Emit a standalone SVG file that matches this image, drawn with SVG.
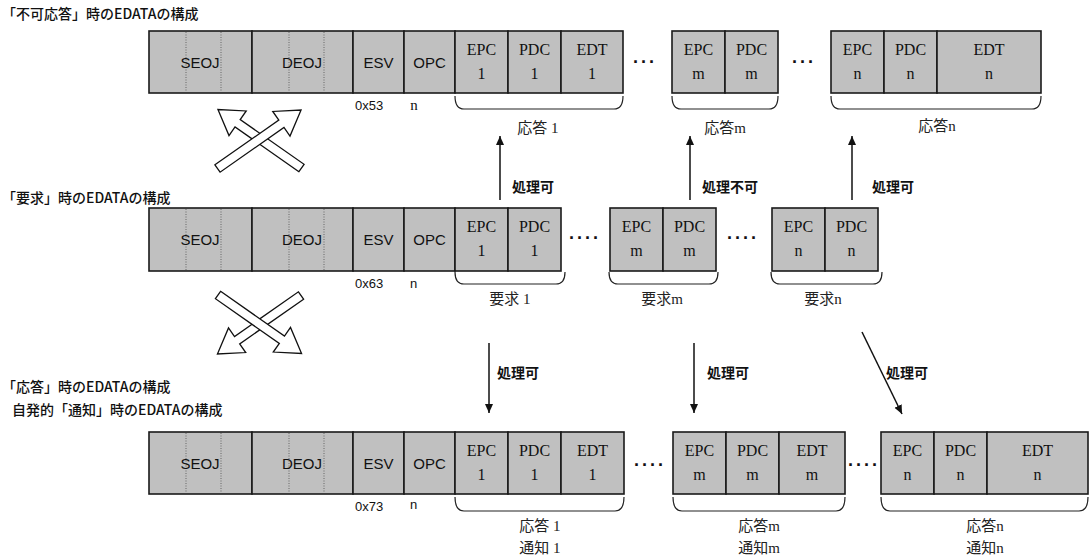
<svg xmlns="http://www.w3.org/2000/svg" width="1091" height="560" viewBox="0 0 1091 560">
<defs>
<style>
.cell{fill:#c0c0c0;stroke:#1a1a1a;stroke-width:1.6}
.dot{stroke:#666;stroke-width:1;stroke-dasharray:1 1.5}
.sans{font-family:"Liberation Sans",Arial,sans-serif;font-size:15px;fill:#111}
.sm{font-family:"Liberation Sans",Arial,sans-serif;font-size:13px;fill:#111}
.ser{font-family:"Liberation Serif","Noto Sans CJK JP",serif;font-size:16px;fill:#111;text-anchor:middle}
.cap{font-family:"Liberation Serif","Noto Sans CJK JP",serif;font-size:15px;fill:#222;text-anchor:middle}
.ttl{font-family:"Noto Sans CJK JP",sans-serif;font-size:14px;font-weight:500;fill:#111}
.lbl{font-family:"Noto Sans CJK JP",sans-serif;font-size:14px;font-weight:bold;fill:#111}
.mid{text-anchor:middle}
.dots{font-family:"Liberation Sans",Arial,sans-serif;font-size:18px;font-weight:bold;fill:#111}
.brace{fill:none;stroke:#222;stroke-width:1.2}
.conn{stroke:#111;stroke-width:1.5;fill:none}
.blk{fill:#fff;stroke:#111;stroke-width:1.3}
</style>
<marker id="ah" markerWidth="10" markerHeight="10" refX="9" refY="5" orient="auto" markerUnits="userSpaceOnUse"><path d="M0,1 L9,5 L0,9 z" fill="#111"/></marker>
<polygon id="blkarrow" points="0,-4.5 78,-4.5 78,-15 102,0 78,15 78,4.5 0,4.5"/>
</defs>

<!-- titles -->
<g id="titles">
<text class="ttl" x="2" y="19">「不可応答」時のEDATAの構成</text>
<text class="ttl" x="2" y="203">「要求」時のEDATAの構成</text>
<text class="ttl" x="2" y="392">「応答」時のEDATAの構成</text>
<text class="ttl" x="12" y="415">自発的「通知」時のEDATAの構成</text>
</g>

<!-- top row header -->
<g id="hdr-top">
<rect class="cell" x="149" y="31" width="103" height="62"/>
<rect class="cell" x="252" y="31" width="101" height="62"/>
<rect class="cell" x="353" y="31" width="51" height="62"/>
<rect class="cell" x="404" y="31" width="51" height="62"/>
<line class="dot" x1="186" y1="32" x2="186" y2="92"/><line class="dot" x1="221" y1="32" x2="221" y2="92"/>
<line class="dot" x1="289" y1="32" x2="289" y2="92"/><line class="dot" x1="324" y1="32" x2="324" y2="92"/>
<text class="sans mid" x="200" y="68">SEOJ</text>
<text class="sans mid" x="302" y="68">DEOJ</text>
<text class="sans mid" x="378.5" y="68">ESV</text>
<text class="sans mid" x="429.5" y="68">OPC</text>
<text class="sm" x="355" y="110">0x53</text>
<text class="ser" x="414" y="110" style="font-size:15px">n</text>
</g>
<g id="top-1">
<rect class="cell" x="455" y="31" width="53" height="62"/>
<rect class="cell" x="508" y="31" width="53" height="62"/>
<rect class="cell" x="561" y="31" width="62" height="62"/>
<text class="ser" x="481.5" y="55">EPC</text><text class="ser" x="481.5" y="79">1</text>
<text class="ser" x="534.5" y="55">PDC</text><text class="ser" x="534.5" y="79">1</text>
<text class="ser" x="592" y="55">EDT</text><text class="ser" x="592" y="79">1</text>
<path class="brace" d="M455,96 Q455,109 464,109 H614 Q623,109 623,96"/>
<text class="cap" x="538" y="133">応答 1</text>
</g>
<text class="dots" x="633" y="68" textLength="22">···</text>
<g id="top-m">
<rect class="cell" x="672" y="31" width="53" height="62"/>
<rect class="cell" x="725" y="31" width="53" height="62"/>
<text class="ser" x="698.5" y="55">EPC</text><text class="ser" x="698.5" y="79">m</text>
<text class="ser" x="751.5" y="55">PDC</text><text class="ser" x="751.5" y="79">m</text>
<path class="brace" d="M672,96 Q672,109 681,109 H769 Q778,109 778,96"/>
<text class="cap" x="725" y="133">応答m</text>
</g>
<text class="dots" x="792" y="68" textLength="22">···</text>
<g id="top-n">
<rect class="cell" x="831" y="31" width="53" height="62"/>
<rect class="cell" x="884" y="31" width="53" height="62"/>
<rect class="cell" x="937" y="31" width="104" height="62"/>
<text class="ser" x="857.5" y="55">EPC</text><text class="ser" x="857.5" y="79">n</text>
<text class="ser" x="910.5" y="55">PDC</text><text class="ser" x="910.5" y="79">n</text>
<text class="ser" x="989" y="55">EDT</text><text class="ser" x="989" y="79">n</text>
<path class="brace" d="M831,96 Q831,109 840,109 H1032 Q1041,109 1041,96"/>
<text class="cap" x="937" y="131">応答n</text>
</g>

<!-- middle row -->
<g id="hdr-mid">
<rect class="cell" x="149" y="208" width="103" height="63"/>
<rect class="cell" x="252" y="208" width="101" height="63"/>
<rect class="cell" x="353" y="208" width="51" height="63"/>
<rect class="cell" x="404" y="208" width="51" height="63"/>
<line class="dot" x1="186" y1="209" x2="186" y2="270"/><line class="dot" x1="221" y1="209" x2="221" y2="270"/>
<line class="dot" x1="289" y1="209" x2="289" y2="270"/><line class="dot" x1="324" y1="209" x2="324" y2="270"/>
<text class="sans mid" x="200" y="245">SEOJ</text>
<text class="sans mid" x="302" y="245">DEOJ</text>
<text class="sans mid" x="378.5" y="245">ESV</text>
<text class="sans mid" x="429.5" y="245">OPC</text>
<text class="sm" x="355" y="288">0x63</text>
<text class="sm" x="410" y="288">n</text>
</g>
<g id="mid-1">
<rect class="cell" x="455" y="208" width="53" height="63"/>
<rect class="cell" x="508" y="208" width="53" height="63"/>
<text class="ser" x="481.5" y="232">EPC</text><text class="ser" x="481.5" y="256">1</text>
<text class="ser" x="534.5" y="232">PDC</text><text class="ser" x="534.5" y="256">1</text>
<path class="brace" d="M455,272 Q455,284 464,284 H556 Q565,284 565,272"/>
<text class="cap" x="510" y="304">要求 1</text>
</g>
<text class="dots" x="569" y="244" textLength="30">····</text>
<g id="mid-m">
<rect class="cell" x="610" y="208" width="53" height="63"/>
<rect class="cell" x="663" y="208" width="53" height="63"/>
<text class="ser" x="636.5" y="232">EPC</text><text class="ser" x="636.5" y="256">m</text>
<text class="ser" x="689.5" y="232">PDC</text><text class="ser" x="689.5" y="256">m</text>
<path class="brace" d="M609,272 Q609,284 618,284 H709 Q718,284 718,272"/>
<text class="cap" x="662" y="304">要求m</text>
</g>
<text class="dots" x="727" y="244" textLength="30">····</text>
<g id="mid-n">
<rect class="cell" x="772" y="208" width="53" height="63"/>
<rect class="cell" x="825" y="208" width="53" height="63"/>
<text class="ser" x="798.5" y="232">EPC</text><text class="ser" x="798.5" y="256">n</text>
<text class="ser" x="851.5" y="232">PDC</text><text class="ser" x="851.5" y="256">n</text>
<path class="brace" d="M771,272 Q771,284 780,284 H873 Q882,284 882,272"/>
<text class="cap" x="823" y="304">要求n</text>
</g>

<!-- bottom row -->
<g id="hdr-bot">
<rect class="cell" x="149" y="432" width="103" height="62"/>
<rect class="cell" x="252" y="432" width="101" height="62"/>
<rect class="cell" x="353" y="432" width="51" height="62"/>
<rect class="cell" x="404" y="432" width="51" height="62"/>
<line class="dot" x1="186" y1="433" x2="186" y2="493"/><line class="dot" x1="221" y1="433" x2="221" y2="493"/>
<line class="dot" x1="289" y1="433" x2="289" y2="493"/><line class="dot" x1="324" y1="433" x2="324" y2="493"/>
<text class="sans mid" x="200" y="469">SEOJ</text>
<text class="sans mid" x="302" y="469">DEOJ</text>
<text class="sans mid" x="378.5" y="469">ESV</text>
<text class="sans mid" x="429.5" y="469">OPC</text>
<text class="sm" x="355" y="511">0x73</text>
<text class="sm" x="410" y="509">n</text>
</g>
<g id="bot-1">
<rect class="cell" x="455" y="432" width="53" height="62"/>
<rect class="cell" x="508" y="432" width="53" height="62"/>
<rect class="cell" x="561" y="432" width="63" height="62"/>
<text class="ser" x="481.5" y="456">EPC</text><text class="ser" x="481.5" y="480">1</text>
<text class="ser" x="534.5" y="456">PDC</text><text class="ser" x="534.5" y="480">1</text>
<text class="ser" x="592.5" y="456">EDT</text><text class="ser" x="592.5" y="480">1</text>
<path class="brace" d="M455,497 Q455,511 464,511 H615 Q624,511 624,497"/>
<text class="cap" x="540" y="531">応答 1</text>
<text class="cap" x="540" y="553">通知 1</text>
</g>
<text class="dots" x="634" y="471" textLength="30">····</text>
<g id="bot-m">
<rect class="cell" x="673" y="432" width="53" height="62"/>
<rect class="cell" x="726" y="432" width="53" height="62"/>
<rect class="cell" x="779" y="432" width="66" height="62"/>
<text class="ser" x="699.5" y="456">EPC</text><text class="ser" x="699.5" y="480">m</text>
<text class="ser" x="752.5" y="456">PDC</text><text class="ser" x="752.5" y="480">m</text>
<text class="ser" x="812" y="456">EDT</text><text class="ser" x="812" y="480">m</text>
<path class="brace" d="M673,497 Q673,511 682,511 H836 Q845,511 845,497"/>
<text class="cap" x="759" y="531">応答m</text>
<text class="cap" x="759" y="553">通知m</text>
</g>
<text class="dots" x="848" y="471" textLength="30">····</text>
<g id="bot-n">
<rect class="cell" x="881" y="432" width="53" height="62"/>
<rect class="cell" x="934" y="432" width="53" height="62"/>
<rect class="cell" x="987" y="432" width="101" height="62"/>
<text class="ser" x="907.5" y="456">EPC</text><text class="ser" x="907.5" y="480">n</text>
<text class="ser" x="960.5" y="456">PDC</text><text class="ser" x="960.5" y="480">n</text>
<text class="ser" x="1037.5" y="456">EDT</text><text class="ser" x="1037.5" y="480">n</text>
<path class="brace" d="M881,497 Q881,511 890,511 H1079 Q1088,511 1088,497"/>
<text class="cap" x="985" y="531">応答n</text>
<text class="cap" x="985" y="553">通知n</text>
</g>

<!-- connectors -->
<g id="connectors">
<line class="conn" x1="500" y1="200" x2="500" y2="136" marker-end="url(#ah)"/>
<line class="conn" x1="690" y1="200" x2="690" y2="136" marker-end="url(#ah)"/>
<line class="conn" x1="852" y1="200" x2="852" y2="136" marker-end="url(#ah)"/>
<line class="conn" x1="489" y1="343" x2="489" y2="413" marker-end="url(#ah)"/>
<line class="conn" x1="694" y1="343" x2="694" y2="413" marker-end="url(#ah)"/>
<line class="conn" x1="862" y1="332" x2="902" y2="414" marker-end="url(#ah)"/>
<use href="#blkarrow" class="blk" transform="translate(301.5,168) rotate(-145)"/>
<use href="#blkarrow" class="blk" transform="translate(217.5,168.5) rotate(-35)"/>
<use href="#blkarrow" class="blk" transform="translate(301,295.5) rotate(145)"/>
<use href="#blkarrow" class="blk" transform="translate(218,295) rotate(35)"/>
</g>
<g id="conn-labels">
<text class="lbl" x="512" y="192">処理可</text>
<text class="lbl" x="702" y="192">処理不可</text>
<text class="lbl" x="872" y="192">処理可</text>
<text class="lbl" x="497" y="378">処理可</text>
<text class="lbl" x="707" y="378">処理可</text>
<text class="lbl" x="886" y="378">処理可</text>
</g>
</svg>
